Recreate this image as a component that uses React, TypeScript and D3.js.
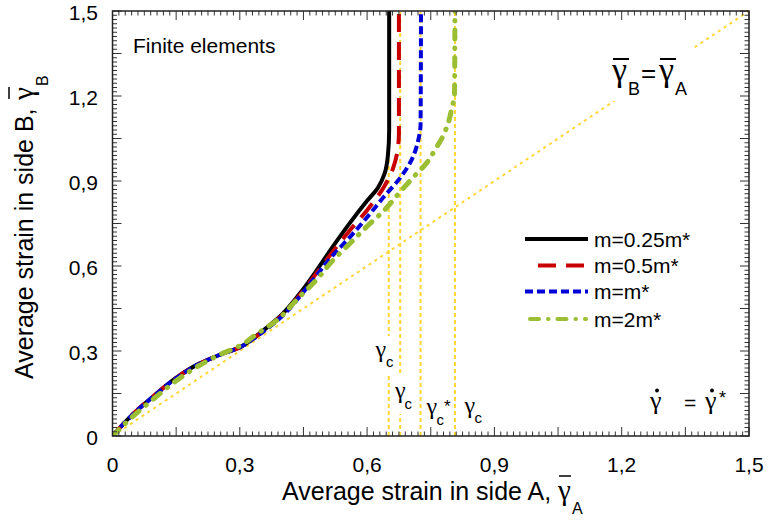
import React from "react";
import * as d3 from "d3";

const W = 768;
const H = 520;

// ---- data ----
const tickValues = [0, 0.3, 0.6, 0.9, 1.2, 1.5];
const tickLabels = ["0", "0,3", "0,6", "0,9", "1,2", "1,5"];

const blackX = [0, 0.05, 0.1, 0.15, 0.2, 0.25, 0.3, 0.33, 0.36, 0.4, 0.44, 0.48, 0.52, 0.56, 0.6, 0.625, 0.641, 0.649, 0.652, 0.652];
const blackY = [0, 0.08, 0.145, 0.205, 0.252, 0.285, 0.313, 0.343, 0.378, 0.43, 0.5, 0.582, 0.67, 0.753, 0.83, 0.875, 0.925, 0.99, 1.08, 1.5];

const redX = [0, 0.05, 0.1, 0.15, 0.2, 0.25, 0.3, 0.33, 0.36, 0.4, 0.44, 0.48, 0.52, 0.56, 0.6, 0.64, 0.66, 0.671, 0.675, 0.675];
const redY = [0, 0.08, 0.145, 0.205, 0.252, 0.285, 0.313, 0.342, 0.376, 0.427, 0.495, 0.573, 0.652, 0.727, 0.797, 0.88, 0.94, 1.0, 1.07, 1.5];

const blueX = [0, 0.05, 0.1, 0.15, 0.2, 0.25, 0.3, 0.33, 0.36, 0.4, 0.44, 0.48, 0.52, 0.56, 0.6, 0.64, 0.68, 0.705, 0.72, 0.726, 0.727];
const blueY = [0, 0.079, 0.144, 0.204, 0.251, 0.285, 0.313, 0.341, 0.374, 0.423, 0.49, 0.565, 0.639, 0.703, 0.772, 0.845, 0.915, 0.975, 1.04, 1.1, 1.5];

const greenX = [0, 0.05, 0.1, 0.15, 0.2, 0.25, 0.3, 0.34, 0.38, 0.44, 0.48, 0.52, 0.56, 0.6, 0.64, 0.68, 0.71, 0.74, 0.76, 0.78, 0.792, 0.8, 0.806, 0.807];
const greenY = [0, 0.072, 0.135, 0.195, 0.245, 0.285, 0.318, 0.36, 0.4, 0.49, 0.55, 0.621, 0.68, 0.74, 0.796, 0.865, 0.915, 0.963, 1.01, 1.062, 1.109, 1.16, 1.2, 1.5];

const criticalX = [0.651, 0.678, 0.726, 0.807];
const legendLabels = ["m=0.25m*", "m=0.5m*", "m=m*", "m=2m*"];

const FONT = "'Liberation Sans', Arial, sans-serif";
const GREEK = "'Liberation Serif', 'Times New Roman', serif";

export default function App() {
  const x = d3.scaleLinear().domain([0, 1.5]).range([112.5, 749]);
  const y = d3.scaleLinear().domain([0, 1.5]).range([436, 11]);
  const [x0, x1] = x.range();
  const [y0, y1] = y.range();

  const line = d3
    .line<[number, number]>()
    .x((d) => x(d[0]))
    .y((d) => y(d[1]))
    .curve(d3.curveMonotoneY);

  const zip = (a: number[], b: number[]) => a.map((v, i) => [v, b[i]] as [number, number]);

  const series = [
    { d: zip(blackX, blackY), color: "#000000", dash: "", width: 4, cap: "butt" },
    { d: zip(redX, redY), color: "#C80000", dash: "18,10", width: 4, cap: "butt" },
    { d: zip(blueX, blueY), color: "#0000D8", dash: "8,4", width: 4, cap: "butt" },
    { d: zip(greenX, greenY), color: "#9BBE32", dash: "9,9,0.5,9", width: 5, cap: "round" },
  ];

  const minor = d3.range(0, 101).map((i) => ({ v: i * 0.015, major: i % 10 === 0 }));

  const yellow = "#FFD633";

  return (
    <svg width={W} height={H} style={{ display: "block", position: "absolute", left: 0, top: 0 }} fontFamily={FONT}>
      <rect x={0} y={0} width={W} height={H} fill="#fff" />
      <defs>
        <clipPath id="plot">
          <rect x={x0} y={y1} width={x1 - x0} height={y0 - y1} />
        </clipPath>
      </defs>

      {/* reference lines */}
      <g clipPath="url(#plot)">
        <line x1={x(0)} y1={y(0)} x2={x(1.5)} y2={y(1.5)} stroke={yellow} strokeWidth={2} strokeDasharray="3,4" />
        {criticalX.map((c, i) => (
          <line key={i} x1={x(c)} x2={x(c)} y1={y(0)} y2={y(1.5)} stroke={yellow} strokeWidth={2} strokeDasharray="4,3" />
        ))}
      </g>

      {/* label backgrounds */}
      <rect x={374} y={336} width={22} height={40} fill="#fff" />
      <rect x={393} y={374} width={22} height={40} fill="#fff" />
      <rect x={610} y={49} width={84} height={52} fill="#fff" />

      {/* curves */}
      <g clipPath="url(#plot)" fill="none">
        {series.map((s, i) => (
          <path key={i} d={line(s.d) || ""} stroke={s.color} strokeWidth={s.width} strokeDasharray={s.dash} strokeLinecap={s.cap as any} strokeLinejoin="round" />
        ))}
      </g>

      {/* frame and ticks */}
      <g stroke="#333" strokeWidth={1}>
        {minor.map((t, i) => {
          const len = t.major ? 9 : 4.5;
          const px = x(t.v);
          const py = y(t.v);
          return (
            <g key={i}>
              <line x1={px} x2={px} y1={y0} y2={y0 - len} />
              <line x1={px} x2={px} y1={y1} y2={y1 + len} />
              <line x1={x0} x2={x0 + len} y1={py} y2={py} />
              <line x1={x1} x2={x1 - len} y1={py} y2={py} />
            </g>
          );
        })}
      </g>
      <rect x={x0} y={y1} width={x1 - x0} height={y0 - y1} fill="none" stroke="#222" strokeWidth={1.5} />

      {/* tick labels */}
      <g fontSize={21} fill="#000">
        {tickValues.map((t, i) => (
          <text key={"b" + i} x={x(t)} y={472} textAnchor="middle">
            {tickLabels[i]}
          </text>
        ))}
        {tickValues.map((t, i) => (
          <text key={"l" + i} x={98} y={y(t) + 8.5} textAnchor="end">
            {tickLabels[i]}
          </text>
        ))}
      </g>

      {/* axis titles */}
      <g fill="#000">
        <text x={282} y={500} fontSize={25}>Average strain in side A,</text>
        <text x={558} y={500} fontSize={29} fontFamily={GREEK}>γ</text>
        <line x1={559} x2={571} y1={476} y2={476} stroke="#000" strokeWidth={1.5} />
        <text x={572} y={514} fontSize={16}>A</text>
      </g>
      <g transform="translate(33,0) rotate(-90)" fill="#000">
        <text x={-379} y={0} fontSize={25}>Average strain in side B,</text>
        <text x={-100} y={0} fontSize={29} fontFamily={GREEK}>γ</text>
        <line x1={-99} x2={-87} y1={-24} y2={-24} stroke="#000" strokeWidth={1.5} />
        <text x={-86} y={15} fontSize={16}>B</text>
      </g>

      {/* annotations */}
      <text x={133} y={53} fontSize={21} fill="#000">Finite elements</text>

      <g fill="#000">
        <text x={612} y={81} fontSize={34} fontFamily={GREEK}>γ</text>
        <line x1={613} x2={629} y1={59} y2={59} stroke="#000" strokeWidth={2} />
        <text x={628} y={95} fontSize={18}>B</text>
        <text x={641} y={82} fontSize={26}>=</text>
        <text x={659} y={81} fontSize={34} fontFamily={GREEK}>γ</text>
        <line x1={660} x2={676} y1={59} y2={59} stroke="#000" strokeWidth={2} />
        <text x={675} y={95} fontSize={18}>A</text>
      </g>

      <g fill="#000">
        <text x={650} y={409} fontSize={26} fontFamily={GREEK}>γ</text>
        <circle cx={657} cy={390.5} r={1.9} />
        <text x={684} y={410} fontSize={21}>=</text>
        <text x={705} y={409} fontSize={26} fontFamily={GREEK}>γ</text>
        <circle cx={712} cy={390.5} r={1.9} />
        <text x={719} y={404} fontSize={18}>*</text>
      </g>

      <g fill="#000">
        <text x={375.5} y={357} fontSize={24} fontFamily={GREEK}>γ</text>
        <text x={386} y={367} fontSize={15}>c</text>
        <text x={395} y={398} fontSize={24} fontFamily={GREEK}>γ</text>
        <text x={404.5} y={408.5} fontSize={15}>c</text>
        <text x={426.5} y={414} fontSize={24} fontFamily={GREEK}>γ</text>
        <text x={436.5} y={424.5} fontSize={15}>c</text>
        <text x={444} y={412} fontSize={17}>*</text>
        <text x={464.5} y={412.5} fontSize={24} fontFamily={GREEK}>γ</text>
        <text x={474.5} y={423} fontSize={15}>c</text>
      </g>

      {/* legend */}
      <g>
        {series.map((s, i) => {
          const ly = [239, 265.5, 291.5, 319][i];
          const xs = i === 1 ? [538, 586] : i === 3 ? [530, 586] : [525, 588];
          return (
            <g key={i}>
              <line x1={xs[0]} x2={xs[1]} y1={ly} y2={ly} stroke={s.color} strokeWidth={4} strokeDasharray={s.dash} strokeLinecap={s.cap as any} />
              <text x={594} y={ly + 7.5} fontSize={21} fill="#000">
                {legendLabels[i]}
              </text>
            </g>
          );
        })}
      </g>
    </svg>
  );
}
